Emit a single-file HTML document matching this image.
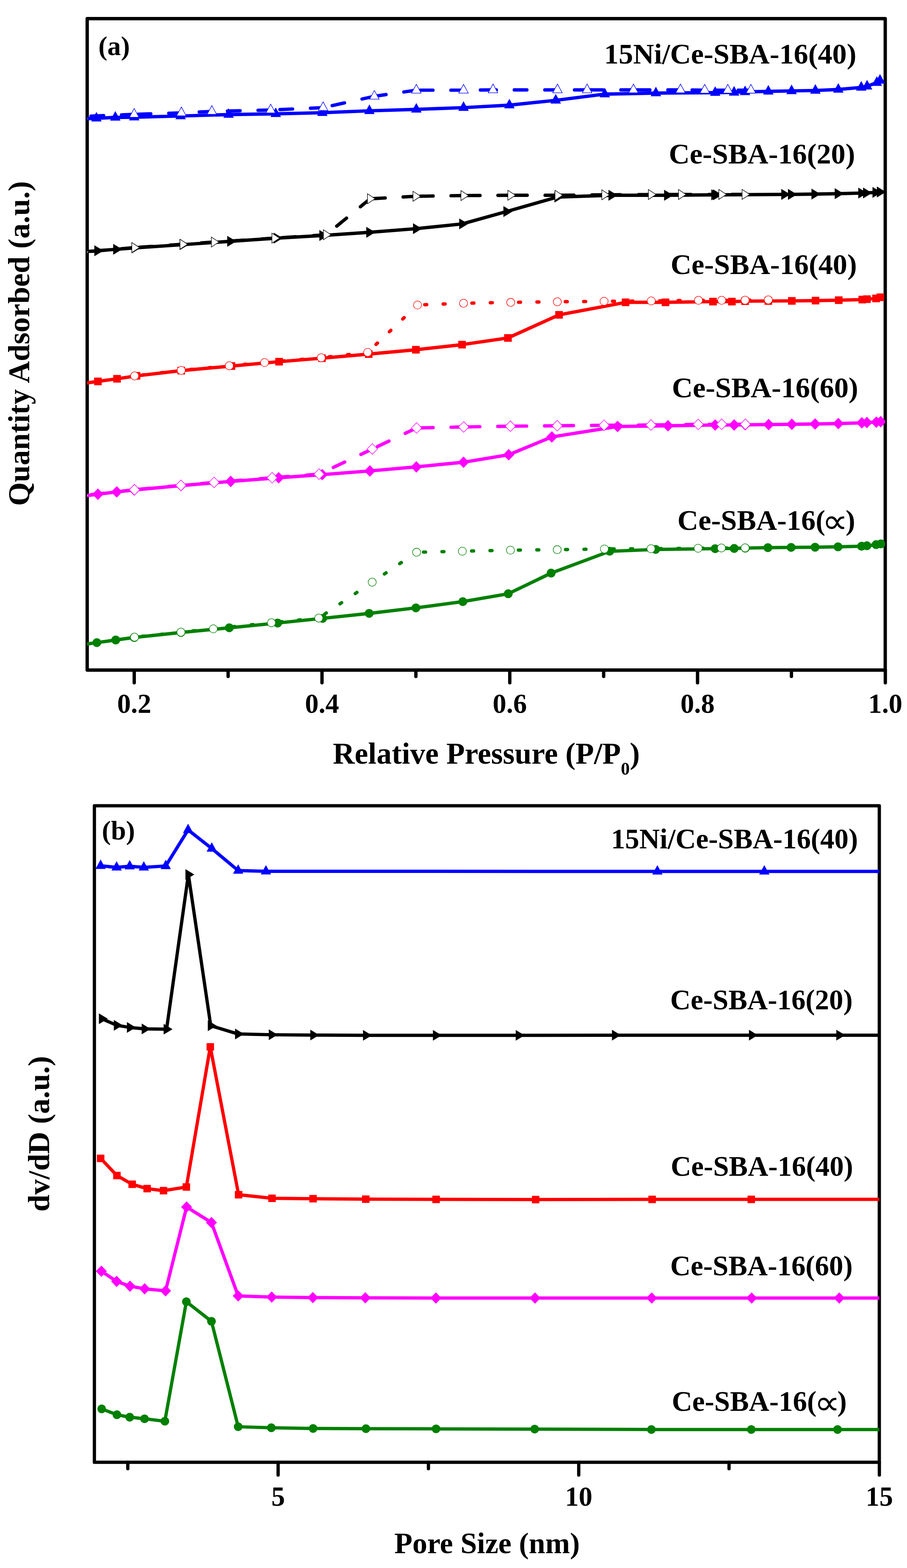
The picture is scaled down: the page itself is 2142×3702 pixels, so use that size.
<!DOCTYPE html>
<html lang="en">
<head>
<meta charset="utf-8">
<title>N2 adsorption-desorption isotherms and pore size distributions</title>
<style>
html,body{margin:0;padding:0;background:#fff;}
body{width:2142px;height:3702px;overflow:hidden;}
svg{display:block;}
svg text{font-family:"Liberation Serif",serif;font-weight:bold;fill:#000;}
svg text.sym{font-family:"DejaVu Sans",sans-serif;font-weight:normal;}
.ln{fill:none;stroke-linejoin:round;stroke-linecap:round;}
</style>
</head>
<body>
<svg width="2142" height="3702" viewBox="0 0 2142 3702">
<defs>
<clipPath id="ca"><rect x="205.9" y="44.0" width="1884.7" height="1538"/></clipPath>
<clipPath id="cb"><rect x="222.9" y="1902.3" width="1853.7" height="1550.1"/></clipPath>
</defs>
<rect x="0" y="0" width="2142" height="3702" fill="#fff"/>
<!-- panel (a): N2 adsorption-desorption isotherms -->
<rect x="205.9" y="44.0" width="1884.7" height="1538" fill="none" stroke="#000" stroke-width="7.9" stroke-linejoin="round"/>
<path d="M317 1582.0v30.0M760.45 1582.0v30.0M1203.9 1582.0v30.0M1647.35 1582.0v30.0M2090.8 1582.0v30.0M538.72 1582.0v15.0M982.17 1582.0v15.0M1425.62 1582.0v15.0M1869.07 1582.0v15.0" stroke="#000" stroke-width="7.9" class="ln"/>
<g clip-path="url(#ca)">
<path d="M196 1521.77L228.8 1517.2L273.3 1511L317 1505L427.3 1493.2L541.5 1482.2L655.7 1470.9L762 1459.9L871.8 1448.2L982.2 1435.2L1093 1420.4L1200.3 1401.8L1301.5 1353.1L1439.7 1301.6L1548.4 1297.2L1689 1295.4L1733.9 1294.8L1760 1294L1813.5 1293L1868.3 1292.4L1924.9 1292L1979.1 1291L2034.7 1289.6L2047.3 1288.6L2069 1285.8L2080.3 1284.1" stroke="#008000" stroke-width="7.9" class="ln"/>
<circle cx="228.8" cy="1517.2" r="10.5" fill="#008000"/>
<circle cx="273.3" cy="1511" r="10.5" fill="#008000"/>
<circle cx="317" cy="1505" r="10.5" fill="#008000"/>
<circle cx="427.3" cy="1493.2" r="10.5" fill="#008000"/>
<circle cx="541.5" cy="1482.2" r="10.5" fill="#008000"/>
<circle cx="655.7" cy="1470.9" r="10.5" fill="#008000"/>
<circle cx="762" cy="1459.9" r="10.5" fill="#008000"/>
<circle cx="871.8" cy="1448.2" r="10.5" fill="#008000"/>
<circle cx="982.2" cy="1435.2" r="10.5" fill="#008000"/>
<circle cx="1093" cy="1420.4" r="10.5" fill="#008000"/>
<circle cx="1200.3" cy="1401.8" r="10.5" fill="#008000"/>
<circle cx="1301.5" cy="1353.1" r="10.5" fill="#008000"/>
<circle cx="1439.7" cy="1301.6" r="10.5" fill="#008000"/>
<circle cx="1548.4" cy="1297.2" r="10.5" fill="#008000"/>
<circle cx="1689" cy="1295.4" r="10.5" fill="#008000"/>
<circle cx="1733.9" cy="1294.8" r="10.5" fill="#008000"/>
<circle cx="1760" cy="1294" r="10.5" fill="#008000"/>
<circle cx="1813.5" cy="1293" r="10.5" fill="#008000"/>
<circle cx="1868.3" cy="1292.4" r="10.5" fill="#008000"/>
<circle cx="1924.9" cy="1292" r="10.5" fill="#008000"/>
<circle cx="1979.1" cy="1291" r="10.5" fill="#008000"/>
<circle cx="2034.7" cy="1289.6" r="10.5" fill="#008000"/>
<circle cx="2047.3" cy="1288.6" r="10.5" fill="#008000"/>
<circle cx="2069" cy="1285.8" r="10.5" fill="#008000"/>
<circle cx="2080.3" cy="1284.1" r="10.5" fill="#008000"/>
<path d="M1759.6 1293.4L1703.7 1293.7" stroke="#008000" stroke-width="7.9" stroke-dasharray="4.6 38.9" class="ln"/>
<path d="M1703.7 1293.7L1648.7 1294.4" stroke="#008000" stroke-width="7.9" stroke-dasharray="4.6 38.9" class="ln"/>
<path d="M1648.7 1294.4L1537.4 1295.4" stroke="#008000" stroke-width="7.9" stroke-dasharray="4.6 38.9" class="ln"/>
<path d="M1537.4 1295.4L1427.3 1296.1" stroke="#008000" stroke-width="7.9" stroke-dasharray="4.6 38.9" class="ln"/>
<path d="M1427.3 1296.1L1315.9 1297.8" stroke="#008000" stroke-width="7.9" stroke-dasharray="4.6 38.9" class="ln"/>
<path d="M1315.9 1297.8L1205.4 1298.9" stroke="#008000" stroke-width="7.9" stroke-dasharray="4.6 38.9" class="ln"/>
<path d="M1205.4 1298.9L1091.9 1301.4" stroke="#008000" stroke-width="7.9" stroke-dasharray="4.6 38.9" class="ln"/>
<path d="M1091.9 1301.4L983.9 1303.8" stroke="#008000" stroke-width="7.9" stroke-dasharray="4.6 38.9" class="ln"/>
<path d="M983.9 1303.8L879 1374.5" stroke="#008000" stroke-width="7.9" stroke-dasharray="4.6 38.9" class="ln"/>
<path d="M879 1374.5L752.8 1459.2" stroke="#008000" stroke-width="7.9" stroke-dasharray="4.6 38.9" class="ln"/>
<path d="M752.8 1459.2L641 1470.2" stroke="#008000" stroke-width="7.9" stroke-dasharray="4.6 38.9" class="ln"/>
<path d="M641 1470.2L503.8 1484.6" stroke="#008000" stroke-width="7.9" stroke-dasharray="4.6 38.9" class="ln"/>
<path d="M503.8 1484.6L427.3 1492.5" stroke="#008000" stroke-width="7.9" stroke-dasharray="4.6 38.9" class="ln"/>
<path d="M427.3 1492.5L317.6 1504.2" stroke="#008000" stroke-width="7.9" stroke-dasharray="4.6 38.9" class="ln"/>
<path d="M317.6 1504.2L197 1519.5" stroke="#008000" stroke-width="7.9" stroke-dasharray="4.6 38.9" class="ln"/>
<circle cx="1759.6" cy="1293.4" r="9.55" fill="#fff" stroke="#008000" stroke-width="1.3"/>
<circle cx="1703.7" cy="1293.7" r="9.55" fill="#fff" stroke="#008000" stroke-width="1.3"/>
<circle cx="1648.7" cy="1294.4" r="9.55" fill="#fff" stroke="#008000" stroke-width="1.3"/>
<circle cx="1537.4" cy="1295.4" r="9.55" fill="#fff" stroke="#008000" stroke-width="1.3"/>
<circle cx="1427.3" cy="1296.1" r="9.55" fill="#fff" stroke="#008000" stroke-width="1.3"/>
<circle cx="1315.9" cy="1297.8" r="9.55" fill="#fff" stroke="#008000" stroke-width="1.3"/>
<circle cx="1205.4" cy="1298.9" r="9.55" fill="#fff" stroke="#008000" stroke-width="1.3"/>
<circle cx="1091.9" cy="1301.4" r="9.55" fill="#fff" stroke="#008000" stroke-width="1.3"/>
<circle cx="983.9" cy="1303.8" r="9.55" fill="#fff" stroke="#008000" stroke-width="1.3"/>
<circle cx="879" cy="1374.5" r="9.55" fill="#fff" stroke="#008000" stroke-width="1.3"/>
<circle cx="752.8" cy="1459.2" r="9.55" fill="#fff" stroke="#008000" stroke-width="1.3"/>
<circle cx="641" cy="1470.2" r="9.55" fill="#fff" stroke="#008000" stroke-width="1.3"/>
<circle cx="503.8" cy="1484.6" r="9.55" fill="#fff" stroke="#008000" stroke-width="1.3"/>
<circle cx="427.3" cy="1492.5" r="9.55" fill="#fff" stroke="#008000" stroke-width="1.3"/>
<circle cx="317.6" cy="1504.2" r="9.55" fill="#fff" stroke="#008000" stroke-width="1.3"/>
<circle cx="197" cy="1519.5" r="9.55" fill="#fff" stroke="#008000" stroke-width="1.3"/>
<path d="M196 1171.15L231.2 1166.8L275.7 1161.3L317 1156.8L427.3 1146.5L544.9 1136.6L658.1 1128L761 1120.5L873.5 1111.9L983.2 1102.3L1094.7 1091.3L1201.3 1073.7L1303.2 1031.6L1458.5 1006.9L1577.5 1005.2L1689 1003.4L1733.9 1003.4L1760 1003L1815.2 1002.4L1870 1001.7L1924.9 1001L1979.8 1000L2035.3 998.3L2047.3 997.6L2069.6 996.6L2079.9 995.6" stroke="#ff00ff" stroke-width="7.9" class="ln"/>
<polygon points="231.2,1153.2 244.4,1166.8 231.2,1180.4 218,1166.8" fill="#ff00ff"/>
<polygon points="275.7,1147.7 288.9,1161.3 275.7,1174.9 262.5,1161.3" fill="#ff00ff"/>
<polygon points="317,1143.2 330.2,1156.8 317,1170.4 303.8,1156.8" fill="#ff00ff"/>
<polygon points="427.3,1132.9 440.5,1146.5 427.3,1160.1 414.1,1146.5" fill="#ff00ff"/>
<polygon points="544.9,1123 558.1,1136.6 544.9,1150.2 531.7,1136.6" fill="#ff00ff"/>
<polygon points="658.1,1114.4 671.3,1128 658.1,1141.6 644.9,1128" fill="#ff00ff"/>
<polygon points="761,1106.9 774.2,1120.5 761,1134.1 747.8,1120.5" fill="#ff00ff"/>
<polygon points="873.5,1098.3 886.7,1111.9 873.5,1125.5 860.3,1111.9" fill="#ff00ff"/>
<polygon points="983.2,1088.7 996.4,1102.3 983.2,1115.9 970,1102.3" fill="#ff00ff"/>
<polygon points="1094.7,1077.7 1107.9,1091.3 1094.7,1104.9 1081.5,1091.3" fill="#ff00ff"/>
<polygon points="1201.3,1060.1 1214.5,1073.7 1201.3,1087.3 1188.1,1073.7" fill="#ff00ff"/>
<polygon points="1303.2,1018 1316.4,1031.6 1303.2,1045.2 1290,1031.6" fill="#ff00ff"/>
<polygon points="1458.5,993.3 1471.7,1006.9 1458.5,1020.5 1445.3,1006.9" fill="#ff00ff"/>
<polygon points="1577.5,991.6 1590.7,1005.2 1577.5,1018.8 1564.3,1005.2" fill="#ff00ff"/>
<polygon points="1689,989.8 1702.2,1003.4 1689,1017 1675.8,1003.4" fill="#ff00ff"/>
<polygon points="1733.9,989.8 1747.1,1003.4 1733.9,1017 1720.7,1003.4" fill="#ff00ff"/>
<polygon points="1760,989.4 1773.2,1003 1760,1016.6 1746.8,1003" fill="#ff00ff"/>
<polygon points="1815.2,988.8 1828.4,1002.4 1815.2,1016 1802,1002.4" fill="#ff00ff"/>
<polygon points="1870,988.1 1883.2,1001.7 1870,1015.3 1856.8,1001.7" fill="#ff00ff"/>
<polygon points="1924.9,987.4 1938.1,1001 1924.9,1014.6 1911.7,1001" fill="#ff00ff"/>
<polygon points="1979.8,986.4 1993,1000 1979.8,1013.6 1966.6,1000" fill="#ff00ff"/>
<polygon points="2035.3,984.7 2048.5,998.3 2035.3,1011.9 2022.1,998.3" fill="#ff00ff"/>
<polygon points="2047.3,984 2060.5,997.6 2047.3,1011.2 2034.1,997.6" fill="#ff00ff"/>
<polygon points="2069.6,983 2082.8,996.6 2069.6,1010.2 2056.4,996.6" fill="#ff00ff"/>
<polygon points="2079.9,982 2093.1,995.6 2079.9,1009.2 2066.7,995.6" fill="#ff00ff"/>
<path d="M1760.3 1001.7L1704.4 1001.7" stroke="#ff00ff" stroke-width="7.9" stroke-dasharray="29.8 42.4" class="ln"/>
<path d="M1704.4 1001.7L1648.9 1002" stroke="#ff00ff" stroke-width="7.9" stroke-dasharray="29.8 42.4" class="ln"/>
<path d="M1648.9 1002L1537.4 1003.4" stroke="#ff00ff" stroke-width="7.9" stroke-dasharray="29.8 42.4" class="ln"/>
<path d="M1537.4 1003.4L1426.6 1004.1" stroke="#ff00ff" stroke-width="7.9" stroke-dasharray="29.8 42.4" class="ln"/>
<path d="M1426.6 1004.1L1315.9 1005.2" stroke="#ff00ff" stroke-width="7.9" stroke-dasharray="29.8 42.4" class="ln"/>
<path d="M1315.9 1005.2L1205.4 1006.2" stroke="#ff00ff" stroke-width="7.9" stroke-dasharray="29.8 42.4" class="ln"/>
<path d="M1205.4 1006.2L1095 1008" stroke="#ff00ff" stroke-width="7.9" stroke-dasharray="29.8 42.4" class="ln"/>
<path d="M1095 1008L983.9 1010.4" stroke="#ff00ff" stroke-width="7.9" stroke-dasharray="29.8 42.4" class="ln"/>
<path d="M983.9 1010.4L879.3 1060.1" stroke="#ff00ff" stroke-width="7.9" stroke-dasharray="29.8 42.4" class="ln"/>
<path d="M879.3 1060.1L753.4 1119.5" stroke="#ff00ff" stroke-width="7.9" stroke-dasharray="29.8 42.4" class="ln"/>
<path d="M753.4 1119.5L642.7 1128" stroke="#ff00ff" stroke-width="7.9" stroke-dasharray="29.8 42.4" class="ln"/>
<path d="M642.7 1128L505.5 1139" stroke="#ff00ff" stroke-width="7.9" stroke-dasharray="29.8 42.4" class="ln"/>
<path d="M505.5 1139L427.3 1145.9" stroke="#ff00ff" stroke-width="7.9" stroke-dasharray="29.8 42.4" class="ln"/>
<path d="M427.3 1145.9L317.6 1156.2" stroke="#ff00ff" stroke-width="7.9" stroke-dasharray="29.8 42.4" class="ln"/>
<path d="M317.6 1156.2L196.5 1170" stroke="#ff00ff" stroke-width="7.9" stroke-dasharray="29.8 42.4" class="ln"/>
<polygon points="1760.3,989.02 1772.58,1001.7 1760.3,1014.38 1748.02,1001.7" fill="#fff" stroke="#ff00ff" stroke-width="1.3"/>
<polygon points="1704.4,989.02 1716.68,1001.7 1704.4,1014.38 1692.12,1001.7" fill="#fff" stroke="#ff00ff" stroke-width="1.3"/>
<polygon points="1648.9,989.32 1661.18,1002 1648.9,1014.68 1636.62,1002" fill="#fff" stroke="#ff00ff" stroke-width="1.3"/>
<polygon points="1537.4,990.72 1549.68,1003.4 1537.4,1016.08 1525.12,1003.4" fill="#fff" stroke="#ff00ff" stroke-width="1.3"/>
<polygon points="1426.6,991.42 1438.88,1004.1 1426.6,1016.78 1414.32,1004.1" fill="#fff" stroke="#ff00ff" stroke-width="1.3"/>
<polygon points="1315.9,992.52 1328.18,1005.2 1315.9,1017.88 1303.62,1005.2" fill="#fff" stroke="#ff00ff" stroke-width="1.3"/>
<polygon points="1205.4,993.52 1217.68,1006.2 1205.4,1018.88 1193.12,1006.2" fill="#fff" stroke="#ff00ff" stroke-width="1.3"/>
<polygon points="1095,995.32 1107.28,1008 1095,1020.68 1082.72,1008" fill="#fff" stroke="#ff00ff" stroke-width="1.3"/>
<polygon points="983.9,997.72 996.18,1010.4 983.9,1023.08 971.62,1010.4" fill="#fff" stroke="#ff00ff" stroke-width="1.3"/>
<polygon points="879.3,1047.42 891.58,1060.1 879.3,1072.78 867.02,1060.1" fill="#fff" stroke="#ff00ff" stroke-width="1.3"/>
<polygon points="753.4,1106.82 765.68,1119.5 753.4,1132.18 741.12,1119.5" fill="#fff" stroke="#ff00ff" stroke-width="1.3"/>
<polygon points="642.7,1115.32 654.98,1128 642.7,1140.68 630.42,1128" fill="#fff" stroke="#ff00ff" stroke-width="1.3"/>
<polygon points="505.5,1126.32 517.78,1139 505.5,1151.68 493.22,1139" fill="#fff" stroke="#ff00ff" stroke-width="1.3"/>
<polygon points="427.3,1133.22 439.58,1145.9 427.3,1158.58 415.02,1145.9" fill="#fff" stroke="#ff00ff" stroke-width="1.3"/>
<polygon points="317.6,1143.52 329.88,1156.2 317.6,1168.88 305.32,1156.2" fill="#fff" stroke="#ff00ff" stroke-width="1.3"/>
<polygon points="196.5,1157.32 208.78,1170 196.5,1182.68 184.22,1170" fill="#fff" stroke="#ff00ff" stroke-width="1.3"/>
<path d="M196 905.33L231.2 900.5L276.4 894.3L322.5 887.3L428 875L546.6 864.2L659.1 853.9L760.3 845.6L870.7 836L982.2 825.7L1091.2 813.7L1199.6 797.9L1320.3 743.3L1477.4 713.8L1571.7 713.8L1683.8 712.1L1728.4 712.1L1759.6 711L1814.5 710.6L1870 710.4L1926 709.7L1980.8 708.7L2036.4 707.3L2047.4 706.3L2069 704.6L2079.2 701.8" stroke="#ff0000" stroke-width="7.9" class="ln"/>
<rect x="222.2" y="891.5" width="18" height="18" fill="#ff0000"/>
<rect x="267.4" y="885.3" width="18" height="18" fill="#ff0000"/>
<rect x="313.5" y="878.3" width="18" height="18" fill="#ff0000"/>
<rect x="419" y="866" width="18" height="18" fill="#ff0000"/>
<rect x="537.6" y="855.2" width="18" height="18" fill="#ff0000"/>
<rect x="650.1" y="844.9" width="18" height="18" fill="#ff0000"/>
<rect x="751.3" y="836.6" width="18" height="18" fill="#ff0000"/>
<rect x="861.7" y="827" width="18" height="18" fill="#ff0000"/>
<rect x="973.2" y="816.7" width="18" height="18" fill="#ff0000"/>
<rect x="1082.2" y="804.7" width="18" height="18" fill="#ff0000"/>
<rect x="1190.6" y="788.9" width="18" height="18" fill="#ff0000"/>
<rect x="1311.3" y="734.3" width="18" height="18" fill="#ff0000"/>
<rect x="1468.4" y="704.8" width="18" height="18" fill="#ff0000"/>
<rect x="1562.7" y="704.8" width="18" height="18" fill="#ff0000"/>
<rect x="1674.8" y="703.1" width="18" height="18" fill="#ff0000"/>
<rect x="1719.4" y="703.1" width="18" height="18" fill="#ff0000"/>
<rect x="1750.6" y="702" width="18" height="18" fill="#ff0000"/>
<rect x="1805.5" y="701.6" width="18" height="18" fill="#ff0000"/>
<rect x="1861" y="701.4" width="18" height="18" fill="#ff0000"/>
<rect x="1917" y="700.7" width="18" height="18" fill="#ff0000"/>
<rect x="1971.8" y="699.7" width="18" height="18" fill="#ff0000"/>
<rect x="2027.4" y="698.3" width="18" height="18" fill="#ff0000"/>
<rect x="2038.4" y="697.3" width="18" height="18" fill="#ff0000"/>
<rect x="2060" y="695.6" width="18" height="18" fill="#ff0000"/>
<rect x="2070.2" y="692.8" width="18" height="18" fill="#ff0000"/>
<path d="M1814.5 708L1759.6 708.7" stroke="#ff0000" stroke-width="7.9" stroke-dasharray="4.6 38.9" class="ln"/>
<path d="M1759.6 708.7L1704.4 709" stroke="#ff0000" stroke-width="7.9" stroke-dasharray="4.6 38.9" class="ln"/>
<path d="M1704.4 709L1649.5 709" stroke="#ff0000" stroke-width="7.9" stroke-dasharray="4.6 38.9" class="ln"/>
<path d="M1649.5 709L1538.1 710.4" stroke="#ff0000" stroke-width="7.9" stroke-dasharray="4.6 38.9" class="ln"/>
<path d="M1538.1 710.4L1426.6 711.4" stroke="#ff0000" stroke-width="7.9" stroke-dasharray="4.6 38.9" class="ln"/>
<path d="M1426.6 711.4L1316.2 712.5" stroke="#ff0000" stroke-width="7.9" stroke-dasharray="4.6 38.9" class="ln"/>
<path d="M1316.2 712.5L1206.1 713.8" stroke="#ff0000" stroke-width="7.9" stroke-dasharray="4.6 38.9" class="ln"/>
<path d="M1206.1 713.8L1094.7 716" stroke="#ff0000" stroke-width="7.9" stroke-dasharray="4.6 38.9" class="ln"/>
<path d="M1094.7 716L986 720.1" stroke="#ff0000" stroke-width="7.9" stroke-dasharray="4.6 38.9" class="ln"/>
<path d="M986 720.1L868.3 831.9" stroke="#ff0000" stroke-width="7.9" stroke-dasharray="4.6 38.9" class="ln"/>
<path d="M868.3 831.9L758.6 844.6" stroke="#ff0000" stroke-width="7.9" stroke-dasharray="4.6 38.9" class="ln"/>
<path d="M758.6 844.6L624.8 855.9" stroke="#ff0000" stroke-width="7.9" stroke-dasharray="4.6 38.9" class="ln"/>
<path d="M624.8 855.9L541.5 863.5" stroke="#ff0000" stroke-width="7.9" stroke-dasharray="4.6 38.9" class="ln"/>
<path d="M541.5 863.5L428 874.4" stroke="#ff0000" stroke-width="7.9" stroke-dasharray="4.6 38.9" class="ln"/>
<path d="M428 874.4L317.9 887.5" stroke="#ff0000" stroke-width="7.9" stroke-dasharray="4.6 38.9" class="ln"/>
<path d="M317.9 887.5L197 904.5" stroke="#ff0000" stroke-width="7.9" stroke-dasharray="4.6 38.9" class="ln"/>
<circle cx="1814.5" cy="708" r="9.55" fill="#fff" stroke="#ff0000" stroke-width="1.3"/>
<circle cx="1759.6" cy="708.7" r="9.55" fill="#fff" stroke="#ff0000" stroke-width="1.3"/>
<circle cx="1704.4" cy="709" r="9.55" fill="#fff" stroke="#ff0000" stroke-width="1.3"/>
<circle cx="1649.5" cy="709" r="9.55" fill="#fff" stroke="#ff0000" stroke-width="1.3"/>
<circle cx="1538.1" cy="710.4" r="9.55" fill="#fff" stroke="#ff0000" stroke-width="1.3"/>
<circle cx="1426.6" cy="711.4" r="9.55" fill="#fff" stroke="#ff0000" stroke-width="1.3"/>
<circle cx="1316.2" cy="712.5" r="9.55" fill="#fff" stroke="#ff0000" stroke-width="1.3"/>
<circle cx="1206.1" cy="713.8" r="9.55" fill="#fff" stroke="#ff0000" stroke-width="1.3"/>
<circle cx="1094.7" cy="716" r="9.55" fill="#fff" stroke="#ff0000" stroke-width="1.3"/>
<circle cx="986" cy="720.1" r="9.55" fill="#fff" stroke="#ff0000" stroke-width="1.3"/>
<circle cx="868.3" cy="831.9" r="9.55" fill="#fff" stroke="#ff0000" stroke-width="1.3"/>
<circle cx="758.6" cy="844.6" r="9.55" fill="#fff" stroke="#ff0000" stroke-width="1.3"/>
<circle cx="624.8" cy="855.9" r="9.55" fill="#fff" stroke="#ff0000" stroke-width="1.3"/>
<circle cx="541.5" cy="863.5" r="9.55" fill="#fff" stroke="#ff0000" stroke-width="1.3"/>
<circle cx="428" cy="874.4" r="9.55" fill="#fff" stroke="#ff0000" stroke-width="1.3"/>
<circle cx="317.9" cy="887.5" r="9.55" fill="#fff" stroke="#ff0000" stroke-width="1.3"/>
<circle cx="197" cy="904.5" r="9.55" fill="#fff" stroke="#ff0000" stroke-width="1.3"/>
<path d="M196 594.59L229.9 592L274.4 588.6L318 585.3L431.5 577.6L543.7 569.8L653.4 562.2L761.3 556L872.1 548.5L982.5 539.9L1091.6 528.6L1196 499.5L1316.5 465.2L1444.1 461L1575.5 461L1686.9 460L1691 460L1852.2 459L1868 459L1923.5 458.3L1978.4 457.3L2034 455.9L2045.3 455.6L2067.6 454.2L2077.9 453.2" stroke="#000" stroke-width="7.9" class="ln"/>
<polygon points="244.2,592 222.8,579.05 222.8,604.95" fill="#000"/>
<polygon points="288.7,588.6 267.3,575.65 267.3,601.55" fill="#000"/>
<polygon points="332.3,585.3 310.9,572.35 310.9,598.25" fill="#000"/>
<polygon points="445.8,577.6 424.4,564.65 424.4,590.55" fill="#000"/>
<polygon points="558,569.8 536.6,556.85 536.6,582.75" fill="#000"/>
<polygon points="667.7,562.2 646.3,549.25 646.3,575.15" fill="#000"/>
<polygon points="775.6,556 754.2,543.05 754.2,568.95" fill="#000"/>
<polygon points="886.4,548.5 865,535.55 865,561.45" fill="#000"/>
<polygon points="996.8,539.9 975.4,526.95 975.4,552.85" fill="#000"/>
<polygon points="1105.9,528.6 1084.5,515.65 1084.5,541.55" fill="#000"/>
<polygon points="1210.3,499.5 1188.9,486.55 1188.9,512.45" fill="#000"/>
<polygon points="1330.8,465.2 1309.4,452.25 1309.4,478.15" fill="#000"/>
<polygon points="1458.4,461 1437,448.05 1437,473.95" fill="#000"/>
<polygon points="1589.8,461 1568.4,448.05 1568.4,473.95" fill="#000"/>
<polygon points="1701.2,460 1679.8,447.05 1679.8,472.95" fill="#000"/>
<polygon points="1705.3,460 1683.9,447.05 1683.9,472.95" fill="#000"/>
<polygon points="1866.5,459 1845.1,446.05 1845.1,471.95" fill="#000"/>
<polygon points="1882.3,459 1860.9,446.05 1860.9,471.95" fill="#000"/>
<polygon points="1937.8,458.3 1916.4,445.35 1916.4,471.25" fill="#000"/>
<polygon points="1992.7,457.3 1971.3,444.35 1971.3,470.25" fill="#000"/>
<polygon points="2048.3,455.9 2026.9,442.95 2026.9,468.85" fill="#000"/>
<polygon points="2059.6,455.6 2038.2,442.65 2038.2,468.55" fill="#000"/>
<polygon points="2081.9,454.2 2060.5,441.25 2060.5,467.15" fill="#000"/>
<polygon points="2092.2,453.2 2070.8,440.25 2070.8,466.15" fill="#000"/>
<path d="M1759 459L1704 459" stroke="#000" stroke-width="7.9" stroke-dasharray="29.8 42.4" class="ln"/>
<path d="M1704 459L1608.7 459.3" stroke="#000" stroke-width="7.9" stroke-dasharray="29.8 42.4" class="ln"/>
<path d="M1608.7 459.3L1537.7 459.3" stroke="#000" stroke-width="7.9" stroke-dasharray="29.8 42.4" class="ln"/>
<path d="M1537.7 459.3L1427.7 460" stroke="#000" stroke-width="7.9" stroke-dasharray="29.8 42.4" class="ln"/>
<path d="M1427.7 460L1317.2 461" stroke="#000" stroke-width="7.9" stroke-dasharray="29.8 42.4" class="ln"/>
<path d="M1317.2 461L1205.8 461" stroke="#000" stroke-width="7.9" stroke-dasharray="29.8 42.4" class="ln"/>
<path d="M1205.8 461L1095 461.7" stroke="#000" stroke-width="7.9" stroke-dasharray="29.8 42.4" class="ln"/>
<path d="M1095 461.7L981.8 463.4" stroke="#000" stroke-width="7.9" stroke-dasharray="29.8 42.4" class="ln"/>
<path d="M981.8 463.4L874.2 469.3" stroke="#000" stroke-width="7.9" stroke-dasharray="29.8 42.4" class="ln"/>
<path d="M874.2 469.3L770.2 554.3" stroke="#000" stroke-width="7.9" stroke-dasharray="29.8 42.4" class="ln"/>
<path d="M770.2 554.3L648.6 562.2" stroke="#000" stroke-width="7.9" stroke-dasharray="29.8 42.4" class="ln"/>
<path d="M648.6 562.2L505.6 571.5" stroke="#000" stroke-width="7.9" stroke-dasharray="29.8 42.4" class="ln"/>
<path d="M505.6 571.5L431.5 576.6" stroke="#000" stroke-width="7.9" stroke-dasharray="29.8 42.4" class="ln"/>
<path d="M431.5 576.6L317.8 584.5" stroke="#000" stroke-width="7.9" stroke-dasharray="29.8 42.4" class="ln"/>
<path d="M317.8 584.5L198.3 594.9" stroke="#000" stroke-width="7.9" stroke-dasharray="29.8 42.4" class="ln"/>
<polygon points="1770.6,459 1752.55,447.18 1752.55,470.82" fill="#fff" stroke="#000" stroke-width="1.3"/>
<polygon points="1715.6,459 1697.55,447.18 1697.55,470.82" fill="#fff" stroke="#000" stroke-width="1.3"/>
<polygon points="1620.3,459.3 1602.25,447.48 1602.25,471.12" fill="#fff" stroke="#000" stroke-width="1.3"/>
<polygon points="1549.3,459.3 1531.25,447.48 1531.25,471.12" fill="#fff" stroke="#000" stroke-width="1.3"/>
<polygon points="1439.3,460 1421.25,448.18 1421.25,471.82" fill="#fff" stroke="#000" stroke-width="1.3"/>
<polygon points="1328.8,461 1310.75,449.18 1310.75,472.82" fill="#fff" stroke="#000" stroke-width="1.3"/>
<polygon points="1217.4,461 1199.35,449.18 1199.35,472.82" fill="#fff" stroke="#000" stroke-width="1.3"/>
<polygon points="1106.6,461.7 1088.55,449.88 1088.55,473.52" fill="#fff" stroke="#000" stroke-width="1.3"/>
<polygon points="993.4,463.4 975.35,451.58 975.35,475.22" fill="#fff" stroke="#000" stroke-width="1.3"/>
<polygon points="885.8,469.3 867.75,457.48 867.75,481.12" fill="#fff" stroke="#000" stroke-width="1.3"/>
<polygon points="781.8,554.3 763.75,542.48 763.75,566.12" fill="#fff" stroke="#000" stroke-width="1.3"/>
<polygon points="660.2,562.2 642.15,550.38 642.15,574.02" fill="#fff" stroke="#000" stroke-width="1.3"/>
<polygon points="517.2,571.5 499.15,559.68 499.15,583.32" fill="#fff" stroke="#000" stroke-width="1.3"/>
<polygon points="443.1,576.6 425.05,564.78 425.05,588.42" fill="#fff" stroke="#000" stroke-width="1.3"/>
<polygon points="329.4,584.5 311.35,572.68 311.35,596.32" fill="#fff" stroke="#000" stroke-width="1.3"/>
<polygon points="209.9,594.9 191.85,583.08 191.85,606.72" fill="#fff" stroke="#000" stroke-width="1.3"/>
<path d="M196 280.62L227.7 279.2L272.3 277.2L316.9 276.7L426.6 273.9L539.8 270.5L651.2 268.8L761.3 266.1L872.4 261.6L983.2 258.2L1094.7 254.1L1203 248.2L1312.4 236.9L1428.3 222.2L1549 219.8L1689 218.8L1733.6 218.1L1759.6 217L1814.5 215.7L1869.4 214.6L1925.6 213.6L1979.8 211.2L2034 206.4L2047.7 203.6L2070.7 195.1L2078.2 189.9" stroke="#0000ff" stroke-width="7.9" class="ln"/>
<polygon points="227.7,264.13 240.1,286.73 215.3,286.73" fill="#0000ff"/>
<polygon points="272.3,262.13 284.7,284.73 259.9,284.73" fill="#0000ff"/>
<polygon points="316.9,261.63 329.3,284.23 304.5,284.23" fill="#0000ff"/>
<polygon points="426.6,258.83 439,281.43 414.2,281.43" fill="#0000ff"/>
<polygon points="539.8,255.43 552.2,278.03 527.4,278.03" fill="#0000ff"/>
<polygon points="651.2,253.73 663.6,276.33 638.8,276.33" fill="#0000ff"/>
<polygon points="761.3,251.03 773.7,273.63 748.9,273.63" fill="#0000ff"/>
<polygon points="872.4,246.53 884.8,269.13 860,269.13" fill="#0000ff"/>
<polygon points="983.2,243.13 995.6,265.73 970.8,265.73" fill="#0000ff"/>
<polygon points="1094.7,239.03 1107.1,261.63 1082.3,261.63" fill="#0000ff"/>
<polygon points="1203,233.13 1215.4,255.73 1190.6,255.73" fill="#0000ff"/>
<polygon points="1312.4,221.83 1324.8,244.43 1300,244.43" fill="#0000ff"/>
<polygon points="1428.3,207.13 1440.7,229.73 1415.9,229.73" fill="#0000ff"/>
<polygon points="1549,204.73 1561.4,227.33 1536.6,227.33" fill="#0000ff"/>
<polygon points="1689,203.73 1701.4,226.33 1676.6,226.33" fill="#0000ff"/>
<polygon points="1733.6,203.03 1746,225.63 1721.2,225.63" fill="#0000ff"/>
<polygon points="1759.6,201.93 1772,224.53 1747.2,224.53" fill="#0000ff"/>
<polygon points="1814.5,200.63 1826.9,223.23 1802.1,223.23" fill="#0000ff"/>
<polygon points="1869.4,199.53 1881.8,222.13 1857,222.13" fill="#0000ff"/>
<polygon points="1925.6,198.53 1938,221.13 1913.2,221.13" fill="#0000ff"/>
<polygon points="1979.8,196.13 1992.2,218.73 1967.4,218.73" fill="#0000ff"/>
<polygon points="2034,191.33 2046.4,213.93 2021.6,213.93" fill="#0000ff"/>
<polygon points="2047.7,188.53 2060.1,211.13 2035.3,211.13" fill="#0000ff"/>
<polygon points="2070.7,180.03 2083.1,202.63 2058.3,202.63" fill="#0000ff"/>
<polygon points="2078.2,174.83 2090.6,197.43 2065.8,197.43" fill="#0000ff"/>
<path d="M1773.3 212.9L1718.8 212.9" stroke="#0000ff" stroke-width="7.9" stroke-dasharray="29.8 42.4" class="ln"/>
<path d="M1718.8 212.9L1664.3 212.9" stroke="#0000ff" stroke-width="7.9" stroke-dasharray="29.8 42.4" class="ln"/>
<path d="M1664.3 212.9L1607 212.2" stroke="#0000ff" stroke-width="7.9" stroke-dasharray="29.8 42.4" class="ln"/>
<path d="M1607 212.2L1496 212.2" stroke="#0000ff" stroke-width="7.9" stroke-dasharray="29.8 42.4" class="ln"/>
<path d="M1496 212.2L1386.5 212.2" stroke="#0000ff" stroke-width="7.9" stroke-dasharray="29.8 42.4" class="ln"/>
<path d="M1386.5 212.2L1316.5 212.2" stroke="#0000ff" stroke-width="7.9" stroke-dasharray="29.8 42.4" class="ln"/>
<path d="M1316.5 212.2L1164.3 212.2" stroke="#0000ff" stroke-width="7.9" stroke-dasharray="29.8 42.4" class="ln"/>
<path d="M1164.3 212.2L1094.7 212.9" stroke="#0000ff" stroke-width="7.9" stroke-dasharray="29.8 42.4" class="ln"/>
<path d="M1094.7 212.9L983.2 212.9" stroke="#0000ff" stroke-width="7.9" stroke-dasharray="29.8 42.4" class="ln"/>
<path d="M983.2 212.9L884.1 227.3" stroke="#0000ff" stroke-width="7.9" stroke-dasharray="29.8 42.4" class="ln"/>
<path d="M884.1 227.3L763 254.1" stroke="#0000ff" stroke-width="7.9" stroke-dasharray="29.8 42.4" class="ln"/>
<path d="M763 254.1L639.2 259.7" stroke="#0000ff" stroke-width="7.9" stroke-dasharray="29.8 42.4" class="ln"/>
<path d="M639.2 259.7L500.3 263.1" stroke="#0000ff" stroke-width="7.9" stroke-dasharray="29.8 42.4" class="ln"/>
<path d="M500.3 263.1L428.3 266.4" stroke="#0000ff" stroke-width="7.9" stroke-dasharray="29.8 42.4" class="ln"/>
<path d="M428.3 266.4L316.9 270" stroke="#0000ff" stroke-width="7.9" stroke-dasharray="29.8 42.4" class="ln"/>
<path d="M316.9 270L197 274.9" stroke="#0000ff" stroke-width="7.9" stroke-dasharray="29.8 42.4" class="ln"/>
<polygon points="1773.3,199.13 1784.57,219.78 1762.03,219.78" fill="#fff" stroke="#0000ff" stroke-width="1.3"/>
<polygon points="1718.8,199.13 1730.07,219.78 1707.53,219.78" fill="#fff" stroke="#0000ff" stroke-width="1.3"/>
<polygon points="1664.3,199.13 1675.57,219.78 1653.03,219.78" fill="#fff" stroke="#0000ff" stroke-width="1.3"/>
<polygon points="1607,198.43 1618.27,219.08 1595.73,219.08" fill="#fff" stroke="#0000ff" stroke-width="1.3"/>
<polygon points="1496,198.43 1507.27,219.08 1484.73,219.08" fill="#fff" stroke="#0000ff" stroke-width="1.3"/>
<polygon points="1386.5,198.43 1397.77,219.08 1375.23,219.08" fill="#fff" stroke="#0000ff" stroke-width="1.3"/>
<polygon points="1316.5,198.43 1327.77,219.08 1305.23,219.08" fill="#fff" stroke="#0000ff" stroke-width="1.3"/>
<polygon points="1164.3,198.43 1175.57,219.08 1153.03,219.08" fill="#fff" stroke="#0000ff" stroke-width="1.3"/>
<polygon points="1094.7,199.13 1105.97,219.78 1083.43,219.78" fill="#fff" stroke="#0000ff" stroke-width="1.3"/>
<polygon points="983.2,199.13 994.47,219.78 971.93,219.78" fill="#fff" stroke="#0000ff" stroke-width="1.3"/>
<polygon points="884.1,213.53 895.37,234.18 872.83,234.18" fill="#fff" stroke="#0000ff" stroke-width="1.3"/>
<polygon points="763,240.33 774.27,260.98 751.73,260.98" fill="#fff" stroke="#0000ff" stroke-width="1.3"/>
<polygon points="639.2,245.93 650.47,266.58 627.93,266.58" fill="#fff" stroke="#0000ff" stroke-width="1.3"/>
<polygon points="500.3,249.33 511.57,269.98 489.03,269.98" fill="#fff" stroke="#0000ff" stroke-width="1.3"/>
<polygon points="428.3,252.63 439.57,273.28 417.03,273.28" fill="#fff" stroke="#0000ff" stroke-width="1.3"/>
<polygon points="316.9,256.23 328.17,276.88 305.63,276.88" fill="#fff" stroke="#0000ff" stroke-width="1.3"/>
<polygon points="197,261.13 208.27,281.78 185.73,281.78" fill="#fff" stroke="#0000ff" stroke-width="1.3"/>
</g>
<text x="317" y="1683" font-size="64.5" text-anchor="middle" >0.2</text>
<text x="760.45" y="1683" font-size="64.5" text-anchor="middle" >0.4</text>
<text x="1203.9" y="1683" font-size="64.5" text-anchor="middle" >0.6</text>
<text x="1647.35" y="1683" font-size="64.5" text-anchor="middle" >0.8</text>
<text x="2090.8" y="1683" font-size="64.5" text-anchor="middle" >1.0</text>
<text x="269.6" y="129.6" font-size="64" text-anchor="middle" >(a)</text>
<text x="2022.5" y="149.8" font-size="68.3" text-anchor="end" >15Ni/Ce-SBA-16(40)</text>
<text x="2019.5" y="385.5" font-size="68.3" text-anchor="end" >Ce-SBA-16(20)</text>
<text x="2023.7" y="647" font-size="68.3" text-anchor="end" >Ce-SBA-16(40)</text>
<text x="2026.8" y="937.5" font-size="68.3" text-anchor="end" >Ce-SBA-16(60)</text>
<text x="1948.9" y="1250.6" font-size="68.3" text-anchor="end" >Ce-SBA-16(</text>
<text class="sym" transform="translate(1941 1258) scale(1.08 1)" font-size="80">∝</text>
<text x="1997" y="1250.6" font-size="68.3" text-anchor="start" >)</text>
<text x="1148.5" y="1803.3" font-size="71.5" text-anchor="middle" >Relative Pressure (P/P<tspan font-size="42" dy="25.5">0</tspan><tspan dy="-25.5">)</tspan></text>
<text transform="translate(69 811) rotate(-90)" font-size="71.9" text-anchor="middle">Quantity Adsorbed (a.u.)</text>
<!-- panel (b): pore size distributions -->
<rect x="222.9" y="1902.3" width="1853.7" height="1550.1" fill="none" stroke="#000" stroke-width="7.75" stroke-linejoin="round"/>
<path d="M656.8 3452.4v30.0M1366.75 3452.4v30.0M2076.7 3452.4v30.0M301.82 3452.4v15.0M1011.77 3452.4v15.0M1721.73 3452.4v15.0" stroke="#000" stroke-width="7.75" class="ln"/>
<g clip-path="url(#cb)">
<path d="M240.1 3326.4L276.1 3340.1L306.3 3345.9L341.3 3349.7L389.3 3355.5L440.1 3073.3L499.4 3119.6L562.5 3368.5L640.7 3370.9L739.4 3372.6L864.2 3373L1029.8 3373.5L1262.7 3374L1538.3 3375L1774.2 3375L1978 3375L2095 3375" stroke="#008000" stroke-width="7.75" class="ln"/>
<circle cx="240.1" cy="3326.4" r="10.29" fill="#008000"/>
<circle cx="276.1" cy="3340.1" r="10.29" fill="#008000"/>
<circle cx="306.3" cy="3345.9" r="10.29" fill="#008000"/>
<circle cx="341.3" cy="3349.7" r="10.29" fill="#008000"/>
<circle cx="389.3" cy="3355.5" r="10.29" fill="#008000"/>
<circle cx="440.1" cy="3073.3" r="10.29" fill="#008000"/>
<circle cx="499.4" cy="3119.6" r="10.29" fill="#008000"/>
<circle cx="562.5" cy="3368.5" r="10.29" fill="#008000"/>
<circle cx="640.7" cy="3370.9" r="10.29" fill="#008000"/>
<circle cx="739.4" cy="3372.6" r="10.29" fill="#008000"/>
<circle cx="864.2" cy="3373" r="10.29" fill="#008000"/>
<circle cx="1029.8" cy="3373.5" r="10.29" fill="#008000"/>
<circle cx="1262.7" cy="3374" r="10.29" fill="#008000"/>
<circle cx="1538.3" cy="3375" r="10.29" fill="#008000"/>
<circle cx="1774.2" cy="3375" r="10.29" fill="#008000"/>
<circle cx="1978" cy="3375" r="10.29" fill="#008000"/>
<path d="M239.4 3001.3L275.4 3025.3L307 3036.6L341.6 3042.8L391 3047.6L440.7 2849.7L499.4 2886.4L562.5 3059.6L641.7 3062.3L738.8 3063.6L862.7 3064.1L1029.4 3064.6L1263.5 3064.6L1539.1 3064.6L1775.2 3064.6L1982 3064.6L2095 3064.6" stroke="#ff00ff" stroke-width="7.75" class="ln"/>
<polygon points="239.4,2987.97 252.34,3001.3 239.4,3014.63 226.46,3001.3" fill="#ff00ff"/>
<polygon points="275.4,3011.97 288.34,3025.3 275.4,3038.63 262.46,3025.3" fill="#ff00ff"/>
<polygon points="307,3023.27 319.94,3036.6 307,3049.93 294.06,3036.6" fill="#ff00ff"/>
<polygon points="341.6,3029.47 354.54,3042.8 341.6,3056.13 328.66,3042.8" fill="#ff00ff"/>
<polygon points="391,3034.27 403.94,3047.6 391,3060.93 378.06,3047.6" fill="#ff00ff"/>
<polygon points="440.7,2836.37 453.64,2849.7 440.7,2863.03 427.76,2849.7" fill="#ff00ff"/>
<polygon points="499.4,2873.07 512.34,2886.4 499.4,2899.73 486.46,2886.4" fill="#ff00ff"/>
<polygon points="562.5,3046.27 575.44,3059.6 562.5,3072.93 549.56,3059.6" fill="#ff00ff"/>
<polygon points="641.7,3048.97 654.64,3062.3 641.7,3075.63 628.76,3062.3" fill="#ff00ff"/>
<polygon points="738.8,3050.27 751.74,3063.6 738.8,3076.93 725.86,3063.6" fill="#ff00ff"/>
<polygon points="862.7,3050.77 875.64,3064.1 862.7,3077.43 849.76,3064.1" fill="#ff00ff"/>
<polygon points="1029.4,3051.27 1042.34,3064.6 1029.4,3077.93 1016.46,3064.6" fill="#ff00ff"/>
<polygon points="1263.5,3051.27 1276.44,3064.6 1263.5,3077.93 1250.56,3064.6" fill="#ff00ff"/>
<polygon points="1539.1,3051.27 1552.04,3064.6 1539.1,3077.93 1526.16,3064.6" fill="#ff00ff"/>
<polygon points="1775.2,3051.27 1788.14,3064.6 1775.2,3077.93 1762.26,3064.6" fill="#ff00ff"/>
<polygon points="1982,3051.27 1994.94,3064.6 1982,3077.93 1969.06,3064.6" fill="#ff00ff"/>
<path d="M237.7 2734.9L276.1 2775.4L312.1 2796L347.5 2806.3L386.2 2811.1L440.1 2802.5L496.6 2471.6L563.5 2820.7L642.4 2829.2L739.3 2830.1L863.8 2831.2L1029.9 2831.7L1265 2832.2L1540.1 2831.7L1774.2 2831.7L2095 2831.7" stroke="#ff0000" stroke-width="7.75" class="ln"/>
<rect x="228.88" y="2726.08" width="17.64" height="17.64" fill="#ff0000"/>
<rect x="267.28" y="2766.58" width="17.64" height="17.64" fill="#ff0000"/>
<rect x="303.28" y="2787.18" width="17.64" height="17.64" fill="#ff0000"/>
<rect x="338.68" y="2797.48" width="17.64" height="17.64" fill="#ff0000"/>
<rect x="377.38" y="2802.28" width="17.64" height="17.64" fill="#ff0000"/>
<rect x="431.28" y="2793.68" width="17.64" height="17.64" fill="#ff0000"/>
<rect x="487.78" y="2462.78" width="17.64" height="17.64" fill="#ff0000"/>
<rect x="554.68" y="2811.88" width="17.64" height="17.64" fill="#ff0000"/>
<rect x="633.58" y="2820.38" width="17.64" height="17.64" fill="#ff0000"/>
<rect x="730.48" y="2821.28" width="17.64" height="17.64" fill="#ff0000"/>
<rect x="854.98" y="2822.38" width="17.64" height="17.64" fill="#ff0000"/>
<rect x="1021.08" y="2822.88" width="17.64" height="17.64" fill="#ff0000"/>
<rect x="1256.18" y="2823.38" width="17.64" height="17.64" fill="#ff0000"/>
<rect x="1531.28" y="2822.88" width="17.64" height="17.64" fill="#ff0000"/>
<rect x="1765.38" y="2822.88" width="17.64" height="17.64" fill="#ff0000"/>
<path d="M240.5 2405.2L275.8 2420.7L306.7 2425.8L341.6 2429.2L393.4 2429.9L444.9 2064.7L497.7 2421.7L562.1 2441.2L641.7 2443L739.8 2443.8L864.3 2444.4L1029.4 2444.4L1224.9 2444.4L1452.2 2444L1775.7 2444L1982 2444L2095 2444" stroke="#000" stroke-width="7.75" class="ln"/>
<polygon points="254.51,2405.2 233.54,2392.51 233.54,2417.89" fill="#000"/>
<polygon points="289.81,2420.7 268.84,2408.01 268.84,2433.39" fill="#000"/>
<polygon points="320.71,2425.8 299.74,2413.11 299.74,2438.49" fill="#000"/>
<polygon points="355.61,2429.2 334.64,2416.51 334.64,2441.89" fill="#000"/>
<polygon points="407.41,2429.9 386.44,2417.21 386.44,2442.59" fill="#000"/>
<polygon points="458.91,2064.7 437.94,2052.01 437.94,2077.39" fill="#000"/>
<polygon points="511.71,2421.7 490.74,2409.01 490.74,2434.39" fill="#000"/>
<polygon points="576.11,2441.2 555.14,2428.51 555.14,2453.89" fill="#000"/>
<polygon points="655.71,2443 634.74,2430.31 634.74,2455.69" fill="#000"/>
<polygon points="753.81,2443.8 732.84,2431.11 732.84,2456.49" fill="#000"/>
<polygon points="878.31,2444.4 857.34,2431.71 857.34,2457.09" fill="#000"/>
<polygon points="1043.41,2444.4 1022.44,2431.71 1022.44,2457.09" fill="#000"/>
<polygon points="1238.91,2444.4 1217.94,2431.71 1217.94,2457.09" fill="#000"/>
<polygon points="1466.21,2444 1445.24,2431.31 1445.24,2456.69" fill="#000"/>
<polygon points="1789.71,2444 1768.74,2431.31 1768.74,2456.69" fill="#000"/>
<polygon points="1996.01,2444 1975.04,2431.31 1975.04,2456.69" fill="#000"/>
<path d="M237.7 2044.1L275.4 2047.9L306.3 2045.2L339.6 2047.9L391.4 2044.5L444.2 1959.4L500.1 2003.3L562.5 2055.4L628 2057.2L1552.5 2057.3L1805 2057.3L2095 2057.3" stroke="#0000ff" stroke-width="7.75" class="ln"/>
<polygon points="237.7,2029.33 249.85,2051.48 225.55,2051.48" fill="#0000ff"/>
<polygon points="275.4,2033.13 287.55,2055.28 263.25,2055.28" fill="#0000ff"/>
<polygon points="306.3,2030.43 318.45,2052.58 294.15,2052.58" fill="#0000ff"/>
<polygon points="339.6,2033.13 351.75,2055.28 327.45,2055.28" fill="#0000ff"/>
<polygon points="391.4,2029.73 403.55,2051.88 379.25,2051.88" fill="#0000ff"/>
<polygon points="444.2,1944.63 456.35,1966.78 432.05,1966.78" fill="#0000ff"/>
<polygon points="500.1,1988.53 512.25,2010.68 487.95,2010.68" fill="#0000ff"/>
<polygon points="562.5,2040.63 574.65,2062.78 550.35,2062.78" fill="#0000ff"/>
<polygon points="628,2042.43 640.15,2064.58 615.85,2064.58" fill="#0000ff"/>
<polygon points="1552.5,2042.53 1564.65,2064.68 1540.35,2064.68" fill="#0000ff"/>
<polygon points="1805,2042.53 1817.15,2064.68 1792.85,2064.68" fill="#0000ff"/>
</g>
<text x="656.8" y="3554.6" font-size="64.5" text-anchor="middle" >5</text>
<text x="1366.75" y="3554.6" font-size="64.5" text-anchor="middle" >10</text>
<text x="2076.7" y="3554.6" font-size="64.5" text-anchor="middle" >15</text>
<text x="279.7" y="1981.7" font-size="64" text-anchor="middle" >(b)</text>
<text x="2026.3" y="2003.3" font-size="66.9" text-anchor="end" >15Ni/Ce-SBA-16(40)</text>
<text x="2013.8" y="2382.8" font-size="66.9" text-anchor="end" >Ce-SBA-16(20)</text>
<text x="2014.9" y="2776.2" font-size="66.9" text-anchor="end" >Ce-SBA-16(40)</text>
<text x="2013.8" y="3010.6" font-size="66.9" text-anchor="end" >Ce-SBA-16(60)</text>
<text x="1928.3" y="3331.4" font-size="66.9" text-anchor="end" >Ce-SBA-16(</text>
<text class="sym" transform="translate(1922.5 3338.6) scale(1.08 1)" font-size="80">∝</text>
<text x="1977.5" y="3331.4" font-size="66.9" text-anchor="start" >)</text>
<text x="1150.3" y="3666.9" font-size="70.0" text-anchor="middle" >Pore Size (nm)</text>
<text transform="translate(115.6 2677) rotate(-90)" font-size="72.3" text-anchor="middle">dv/dD (a.u.)</text>
</svg>
</body>
</html>
